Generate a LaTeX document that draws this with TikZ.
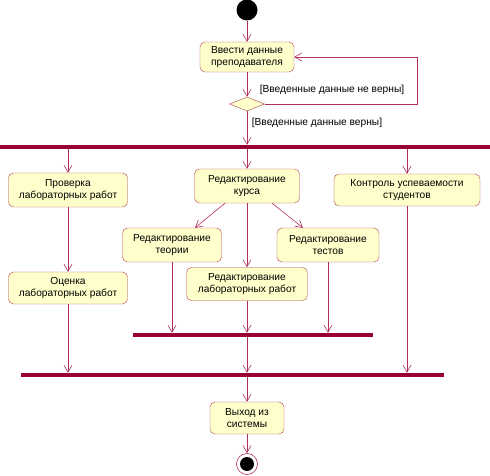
\documentclass[tikz,border=0pt]{standalone}
\usepackage{fontspec}
\setmainfont{Liberation Sans}
\usetikzlibrary{shapes.geometric, arrows.meta}

\definecolor{linecol}{HTML}{B0305A}
\definecolor{barcol}{HTML}{990033}
\definecolor{boxfill}{HTML}{FFFFCC}
\definecolor{boxline}{HTML}{B04050}

\tikzset{
  act/.style={draw=boxline, fill=boxfill, rounded corners=5pt, align=center,
    inner sep=2pt, font=\fontsize{10.2}{12}\selectfont},
  bar/.style={fill=barcol, inner sep=0pt, minimum height=4pt},
  flow/.style={draw=linecol, line width=0.6pt, -{Straight Barb[length=7pt,width=8pt]}},
  guard/.style={inner sep=0pt, font=\fontsize{10.2}{12}\selectfont},
}

\begin{document}
\begin{tikzpicture}[x=1pt, y=-1pt]
    \useasboundingbox (0,0) rectangle (490,476);

    % --- 1. Начало, ввод данных, проверка ---
    \node[circle, fill=black, minimum size=21pt, inner sep=0pt] (start) at (247,10) {};
    \node[act, minimum width=94pt, minimum height=30pt] (vvod) at (247,57) {Ввести данные\\преподавателя};
    \node[diamond, draw=boxline, fill=boxfill, minimum width=35pt, minimum height=14pt, inner sep=0pt] (dec) at (247,104) {};
    \coordinate (loop) at (417,104);
    \node[guard] (guardno) at (332,90) {[Введенные данные не верны]};
    \node[guard] (guardyes) at (317,123) {[Введенные данные верны]};

    % --- 2. Полосы разветвления и слияния ---
    \node[bar, minimum width=490pt] (fork) at (245,147) {};
    \node[bar, minimum width=240pt] (join1) at (253,335) {};
    \node[bar, minimum width=423pt] (join2) at (232.5,375) {};

    % --- 3. Действия ---
    \node[act, minimum width=119pt, minimum height=34pt] (prov) at (68,190) {Проверка\\лабораторных работ};
    \node[act, minimum width=105pt, minimum height=34pt] (kurs) at (247,186) {Редактирование\\курса};
    \node[act, minimum width=146pt, minimum height=32pt] (kontr) at (407,190) {Контроль успеваемости\\студентов};
    \node[act, minimum width=99pt, minimum height=34pt] (teor) at (172,245) {Редактирование\\теории};
    \node[act, minimum width=102pt, minimum height=34pt] (test) at (328,245) {Редактирование\\тестов};
    \node[act, minimum width=121pt, minimum height=33pt] (labr) at (247,284) {Редактирование\\лабораторных работ};
    \node[act, minimum width=119pt, minimum height=32pt] (ocen) at (68,288) {Оценка\\лабораторных работ};
    \node[act, minimum width=74pt, minimum height=32pt] (vyhod) at (247,418) {Выход из\\системы};

    % --- 4. Конец ---
    \node[circle, draw=linecol, fill=white, line width=0.6pt, minimum size=21pt, inner sep=0pt] (end) at (247,464) {};
    \node[circle, fill=black, minimum size=14pt, inner sep=0pt] (endin) at (247,464) {};

    % --- 5. Переходы ---
    \draw[flow] (start) -- (vvod);
    \draw[flow] (vvod) -- (dec);
    \draw[flow] (dec.east) -- (loop) |- (vvod.east);
    \draw[flow] (dec.south) -- (dec.south |- fork.north);
    \draw[flow] (prov.north |- fork.south) -- (prov.north);
    \draw[flow] (kurs.north |- fork.south) -- (kurs.north);
    \draw[flow] (kontr.north |- fork.south) -- (kontr.north);
    \draw[flow] ([xshift=-22pt]kurs.south) -- ([xshift=23pt]teor.north);
    \draw[flow] ([xshift=25pt]kurs.south) -- ([xshift=-25pt]test.north);
    \draw[flow] (kurs) -- (labr);
    \draw[flow] (prov) -- (ocen);
    \draw[flow] (teor.south) -- (teor.south |- join1.north);
    \draw[flow] (labr.south) -- (labr.south |- join1.north);
    \draw[flow] (test.south) -- (test.south |- join1.north);
    \draw[flow] (ocen.south) -- (ocen.south |- join2.north);
    \draw[flow] (labr.south |- join1.south) -- (labr.south |- join2.north);
    \draw[flow] (kontr.south) -- (kontr.south |- join2.north);
    \draw[flow] (vyhod.north |- join2.south) -- (vyhod.north);
    \draw[flow] (vyhod) -- (end);
\end{tikzpicture}
\end{document}
